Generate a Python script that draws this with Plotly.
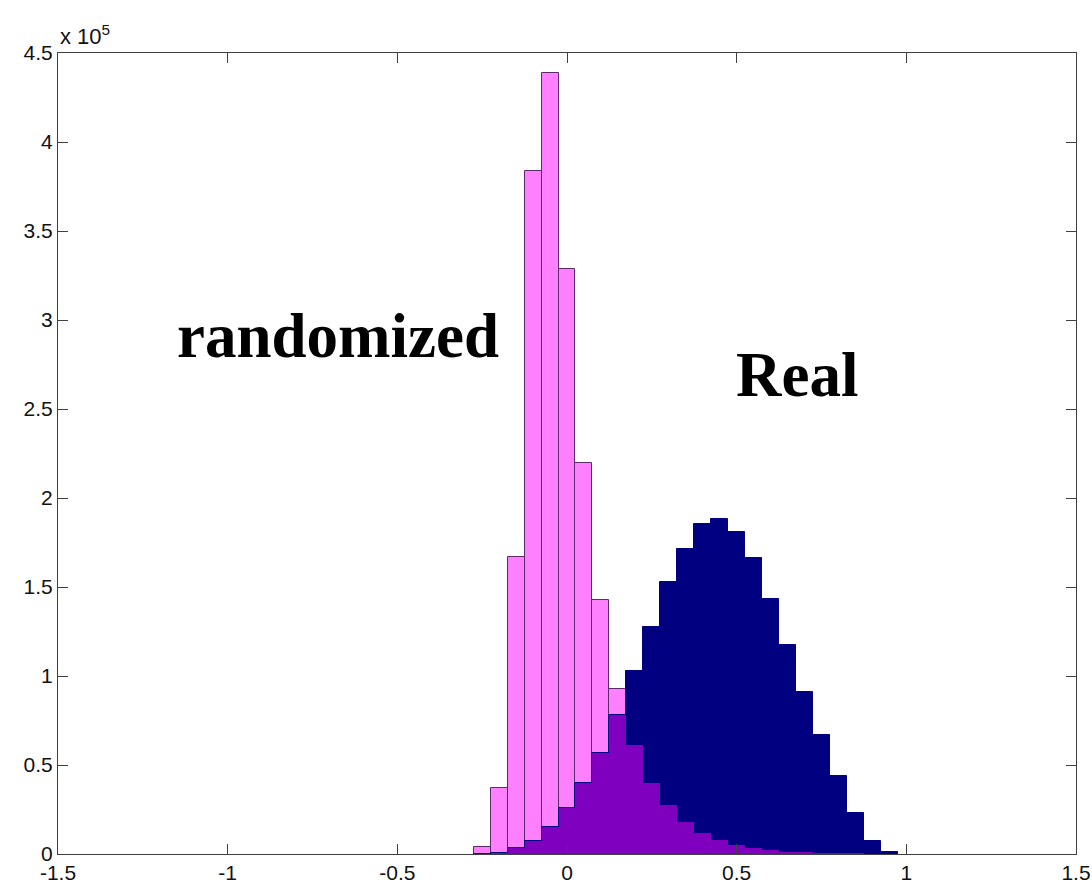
import plotly.graph_objects as go

# bin centres (bin width 0.05)
bin_centers = [-0.25, -0.2, -0.15, -0.1, -0.05, 0.0, 0.05, 0.1, 0.15, 0.2,
               0.25, 0.3, 0.35, 0.4, 0.45, 0.5, 0.55, 0.6, 0.65, 0.7,
               0.75, 0.8, 0.85, 0.9, 0.95]
randomized_counts = [4100, 36900, 167000, 383700, 439000, 328500, 219800, 142500, 92700, 61200,
                     40000, 27500, 18000, 12000, 7900, 5000, 3200, 2000, 1300, 700,
                     400, 200, 100, 0, 0]
real_counts = [0, 500, 3200, 7500, 15300, 26000, 39700, 56600, 78100, 102800,
               127700, 153000, 171300, 185200, 188000, 181000, 166500, 143300, 117400, 90800,
               66900, 43800, 23200, 7500, 1000]
overlap_counts = [min(a, b) for a, b in zip(randomized_counts, real_counts)]

x_tickvals = [-1.5, -1, -0.5, 0, 0.5, 1, 1.5]
x_ticktext = ["-1.5", "-1", "-0.5", "0", "0.5", "1", "1.5"]
y_tickvals = [0, 50000, 100000, 150000, 200000, 250000, 300000, 350000, 400000, 450000]
y_ticktext = ["0", "0.5", "1", "1.5", "2", "2.5", "3", "3.5", "4", "4.5"]

BIN_W = 0.05
PINK = "#FF80FF"
NAVY = "#000080"
PURPLE = "#7F00BF"

fig = go.Figure()
fig.add_trace(go.Bar(x=bin_centers, y=randomized_counts, width=BIN_W,
                     marker=dict(color=PINK, line=dict(color="#5a2a6a", width=1)),
                     name="randomized", showlegend=False))
fig.add_trace(go.Bar(x=bin_centers, y=real_counts, width=BIN_W,
                     marker=dict(color=NAVY, line=dict(color=NAVY, width=1)),
                     name="Real", showlegend=False))
fig.add_trace(go.Bar(x=bin_centers, y=overlap_counts, width=BIN_W,
                     marker=dict(color=PURPLE, line=dict(width=0)),
                     name="overlap", showlegend=False))

axis_common = dict(showgrid=False, zeroline=False, showline=True, linecolor="#404040",
                   linewidth=1, mirror="ticks", ticks="inside", ticklen=10,
                   tickcolor="#404040", tickwidth=1, automargin=False,
                   tickfont=dict(family="Liberation Sans, Arial, sans-serif", size=21, color="#111111"))

L, R, T, B = 58, 16, 53, 34
plot_w = 1092 - L - R
plot_h = 888 - T - B

fig.update_layout(
    width=1092, height=888,
    margin=dict(l=L, r=R, t=T, b=B, autoexpand=False),
    paper_bgcolor="white", plot_bgcolor="white",
    barmode="overlay", bargap=0,
    xaxis=dict(range=[-1.5, 1.5], tickvals=x_tickvals, ticktext=x_ticktext, **axis_common),
    yaxis=dict(range=[0, 450000], tickvals=y_tickvals, ticktext=y_ticktext, **axis_common),
    annotations=[
        dict(x=-0.676, y=2.91e5, xref="x", yref="y", text="<b>randomized</b>", showarrow=False,
             font=dict(family="Liberation Serif, Times New Roman, serif", size=63, color="black"),
             xanchor="center", yanchor="middle"),
        dict(x=0.677, y=2.69e5, xref="x", yref="y", text="<b>Real</b>", showarrow=False,
             font=dict(family="Liberation Serif, Times New Roman, serif", size=63, color="black"),
             xanchor="center", yanchor="middle"),
        dict(x=0, y=1 + 2 / plot_h, xref="paper", yref="paper", text="x 10<sup>5</sup>",
             showarrow=False,
             font=dict(family="Liberation Sans, Arial, sans-serif", size=22, color="#111111"),
             xanchor="left", yanchor="bottom"),
    ],
)

fig.write_html("out.html")
